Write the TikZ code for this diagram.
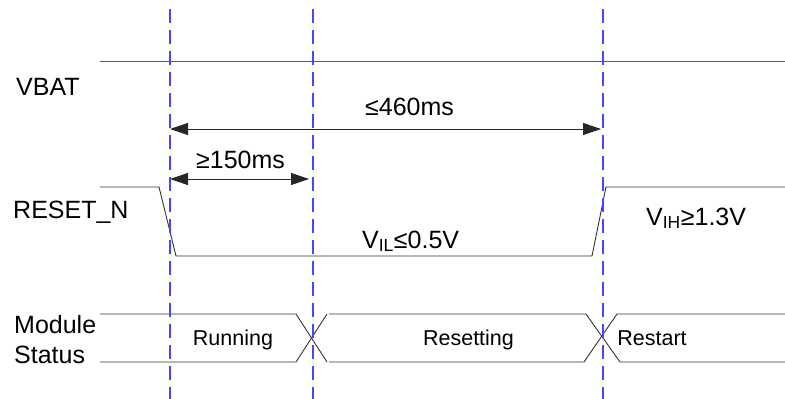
\documentclass[tikz,border=0pt]{standalone}
\usepackage{fontspec}
\setmainfont{Liberation Sans}
\usetikzlibrary{arrows.meta}
\definecolor{guideblue}{RGB}{70,70,255}
\begin{document}
\begin{tikzpicture}[x=1pt,y=-1pt,
  sig/.style={draw=black!80, line width=0.9pt},
  guide/.style={draw=guideblue, line width=1.2pt, dash pattern=on 14pt off 7pt},
  dimarrow/.style={draw=black!85, line width=0.9pt, {Triangle[length=18pt,width=12pt]}-{Triangle[length=18pt,width=12pt]}},
  lbl/.style={font=\fontsize{25}{30}\selectfont, inner sep=0pt, anchor=base west},
  st/.style={font=\fontsize{21.5}{26}\selectfont, inner sep=0pt, anchor=base}]
\useasboundingbox (0,0) rectangle (785,399);

% labels
\node[lbl] (vbat) at (16,95) {VBAT};
\node[lbl] (rst) at (13,218) {RESET\_N};
\node[lbl] (mod) at (14,333) {Module};
\node[lbl] (stat) at (14,363) {Status};
\node[lbl] (t460) at (365,115) {≤460ms};
\node[lbl] (t150) at (196,168) {≥150ms};
\node[lbl] (vil) at (362,248) {V\textsubscript{IL}≤0.5V};
\node[lbl] (vih) at (646,225) {V\textsubscript{IH}≥1.3V};
\node[st] (run) at (233,345) {Running};
\node[st] (rsting) at (468.5,345) {Resetting};
\node[st] (rstart) at (652,345) {Restart};

% VBAT
\coordinate (v0) at (100,61);
\coordinate (v1) at (785,61);
\draw[sig, draw=black!65] (v0) -- (v1);

% RESET_N
\coordinate (r0) at (100,187);
\coordinate (r1) at (159,187);
\coordinate (r2) at (176,256);
\coordinate (r3) at (592,256);
\coordinate (r4) at (606,187);
\coordinate (r5) at (785,187);
\draw[sig] (r0) -- (r1) -- (r2) -- (r3) -- (r4) -- (r5);

% Module status
\coordinate (a0) at (100,314);
\coordinate (a1) at (296,314);
\coordinate (a2) at (327,362);
\coordinate (b0) at (100,362);
\coordinate (b1) at (296,362);
\coordinate (b2) at (327,314);
\draw[sig] (a0) -- (a1) -- (a2);
\draw[sig] (b0) -- (b1) -- (b2);
\coordinate (c0) at (329,314);
\coordinate (c1) at (586,314);
\coordinate (c2) at (620,362);
\coordinate (c3) at (785,362);
\coordinate (d0) at (329,362);
\coordinate (d1) at (584,362);
\coordinate (d2) at (617,314);
\coordinate (d3) at (785,314);
\draw[sig] (c0) -- (c1) -- (c2) -- (c3);
\draw[sig] (d0) -- (d1) -- (d2) -- (d3);

% guides
\coordinate (g1t) at (170,9);   \coordinate (g1b) at (170,399);
\coordinate (g2t) at (313,9);   \coordinate (g2b) at (313,399);
\coordinate (g3t) at (603,9);   \coordinate (g3b) at (603,399);
\draw[guide] (g1t) -- (g1b);
\draw[guide] (g2t) -- (g2b);
\draw[guide] (g3t) -- (g3b);

% dimensions
\coordinate (m1a) at (170,129); \coordinate (m1b) at (601,129);
\coordinate (m2a) at (170,179); \coordinate (m2b) at (309,179);
\draw[dimarrow] (m1a) -- (m1b);
\draw[dimarrow] (m2a) -- (m2b);
\end{tikzpicture}
\end{document}
